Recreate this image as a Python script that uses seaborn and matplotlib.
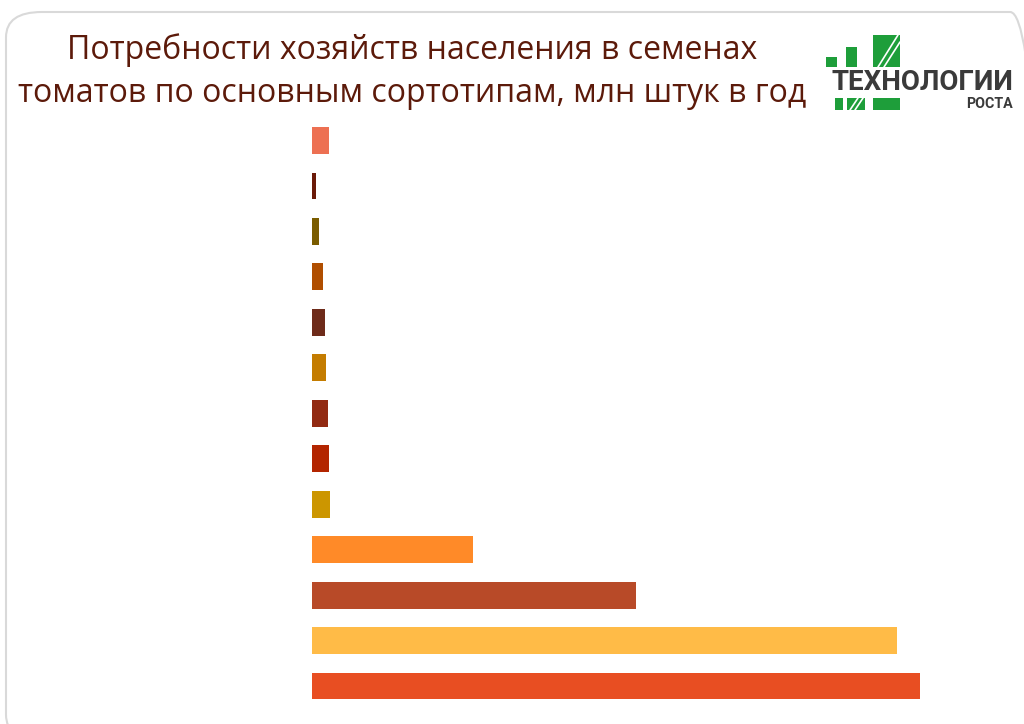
import matplotlib.pyplot as plt
import matplotlib.patches as mpatches
import pandas as pd
import seaborn as sns

# bar values (million pcs per year)
sorts = ['s1', 's2', 's3', 's4', 's5', 's6', 's7', 's8', 's9', 's10', 's11', 's12', 's13']
values = [1.7, 0.4, 0.7, 1.1, 1.3, 1.4, 1.6, 1.7, 1.8, 16.1, 32.4, 58.5, 60.8]
colors = ['#ED7052', '#6B1A08', '#7A5C00', '#B04E00', '#6E2B1A', '#C47C00', '#922A12',
          '#B32500', '#CC9600', '#FF8A28', '#B84A28', '#FFBB47', '#E84E22']

title_lines = ['Потребности хозяйств населения в семенах',
               'томатов по основным сортотипам, млн штук в год']

W, H = 1024, 724


def px(x, y):
    # pixel coords (top-left origin) -> figure fraction
    return x / W, 1 - y / H


sns.set_theme(style='white')
plt.rcParams['font.family'] = ['Open Sans', 'DejaVu Sans']

fig = plt.figure(figsize=(10.24, 7.24), dpi=100)
fig.patch.set_facecolor('white')

# rounded frame
frame = mpatches.FancyBboxPatch(px(6, 740), 1040 / W, 728 / H,
                                boxstyle='round,pad=0,rounding_size=0.035',
                                transform=fig.transFigure, facecolor='none',
                                edgecolor='#D9D9D9', linewidth=1.5)
fig.add_artist(frame)

ax = fig.add_axes([312 / W, 1 - 708.75 / H, 688 / W, (708.75 - 117.75) / H])
df = pd.DataFrame({'sort': sorts, 'value': values})
sns.barplot(data=df, y='sort', x='value', hue='sort', palette=colors, legend=False,
            orient='h', width=0.59, ax=ax, saturation=1, linewidth=0)
ax.set_xlim(0, max(values) * 688 / 608)
ax.set_ylim(12.5, -0.5)
ax.axis('off')

# title
fig.text(*px(412, 50), title_lines[0], ha='center', va='center', fontsize=23, color='#5C1A0A')
fig.text(*px(412, 93), title_lines[1], ha='center', va='center', fontsize=23, color='#5C1A0A')

# logo
green = '#1E9E3A'
for x0, y0, x1, y1 in [(826, 57, 837, 67), (846, 47, 857, 67), (873, 35, 900, 67),
                       (835, 98, 843, 110), (847, 98, 865, 110), (873, 98, 900, 110)]:
    fig.add_artist(mpatches.Rectangle(px(x0, y1), (x1 - x0) / W, (y1 - y0) / H,
                                      transform=fig.transFigure, color=green, lw=0))
for xa, ya, xb, yb in [(878, 67, 898, 35), (884, 67, 900, 42), (850, 110, 858, 98), (855, 110, 863, 98)]:
    fig.add_artist(plt.Line2D([xa / W, xb / W], [1 - ya / H, 1 - yb / H],
                              transform=fig.transFigure, color='white', lw=1.2))
fig.text(*px(922, 82), 'ТЕХНОЛОГИИ', ha='center', va='center', fontsize=20,
         fontweight='bold', color='#3A3A3A', family=['Roboto', 'DejaVu Sans'])
fig.text(*px(1013, 104), 'РОСТА', ha='right', va='center', fontsize=10.3,
         fontweight='bold', color='#3A3A3A', family=['Roboto', 'DejaVu Sans'])

plt.savefig('out.png', dpi=100)
